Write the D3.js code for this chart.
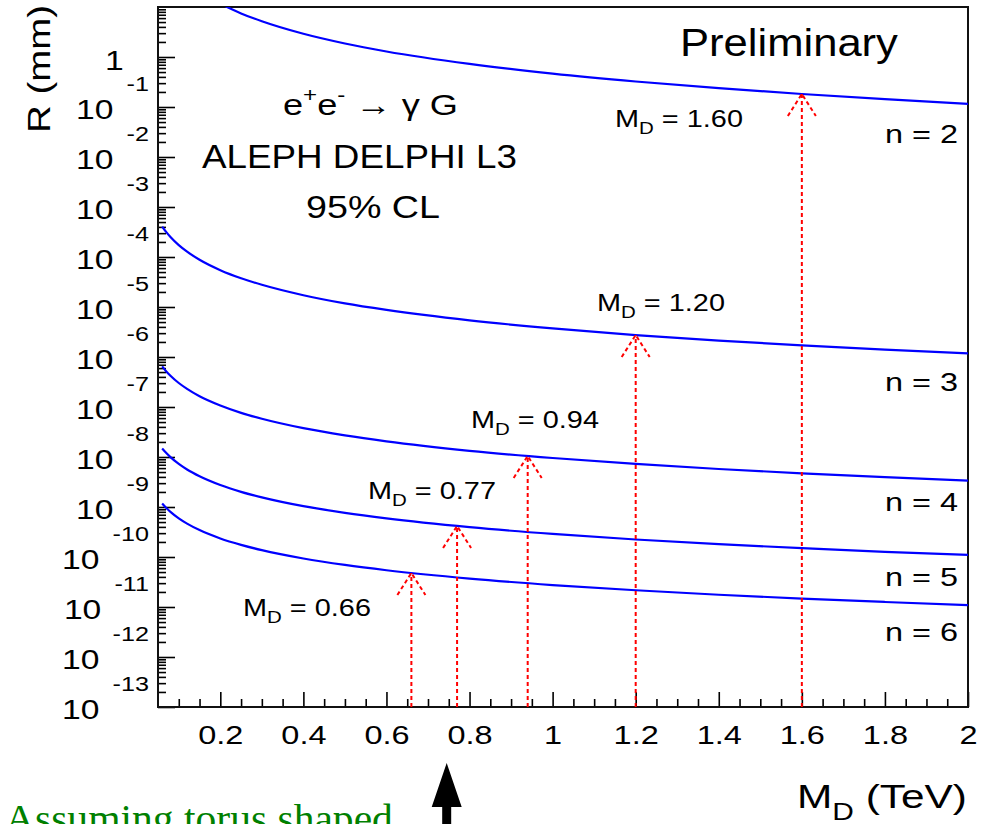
<!DOCTYPE html>
<html>
<head>
<meta charset="utf-8">
<script src="https://cdn.jsdelivr.net/npm/d3@7"></script>
<style>
  html, body { margin: 0; padding: 0; background: #ffffff; }
  svg { display: block; }
</style>
</head>
<body>
<svg id="chart" width="991" height="824"></svg>
<script>
// Sampled masses (TeV) at which the radius limits are tabulated
const massTeV = [0.06, 0.07, 0.08, 0.10, 0.12, 0.15, 0.20, 0.25, 0.30, 0.40, 0.50, 0.60, 0.80, 1.00, 1.20, 1.40, 1.60, 1.80, 2.00];

// Upper limit on the compactification radius R (mm) for n extra dimensions
const radiusN2 = [null, null, null, null, null, null, 11.6, 7.45, 5.18, 2.91, 1.86, 1.29, 0.728, 0.466, 0.324, 0.238, 0.182, 0.144, 0.116];
const radiusN3 = [4.06e-4, 3.14e-4, 2.51e-4, 1.73e-4, 1.28e-4, 8.81e-5, 5.46e-5, 3.76e-5, 2.78e-5, 1.72e-5, 1.18e-5, 8.74e-6, 5.41e-6, 3.73e-6, 2.75e-6, 2.13e-6, 1.71e-6, 1.40e-6, 1.18e-6];
const radiusN4 = [6.49e-7, 5.15e-7, 4.22e-7, 3.02e-7, 2.30e-7, 1.64e-7, 1.07e-7, 7.63e-8, 5.81e-8, 3.77e-8, 2.70e-8, 2.05e-8, 1.33e-8, 9.54e-9, 7.26e-9, 5.76e-9, 4.72e-9, 3.95e-9, 3.37e-9];
const radiusN5 = [1.48e-8, 1.20e-8, 9.93e-9, 7.26e-9, 5.62e-9, 4.12e-9, 2.75e-9, 2.01e-9, 1.56e-9, 1.04e-9, 7.63e-10, 5.91e-10, 3.95e-10, 2.89e-10, 2.24e-10, 1.81e-10, 1.50e-10, 1.27e-10, 1.10e-10];
const radiusN6 = [1.17e-9, 9.53e-10, 7.98e-10, 5.92e-10, 4.65e-10, 3.45e-10, 2.35e-10, 1.75e-10, 1.37e-10, 9.33e-11, 6.93e-11, 5.43e-11, 3.70e-11, 2.75e-11, 2.16e-11, 1.76e-11, 1.47e-11, 1.26e-11, 1.09e-11];

const seriesLabels = ["n = 2", "n = 3", "n = 4", "n = 5", "n = 6"];

// Combined 95% CL lower limits on M_D and the corresponding radius
const limitMass = [1.60, 1.20, 0.94, 0.77, 0.66];
const limitRadius = [0.182, 2.75e-6, 1.05e-8, 4.17e-10, 4.79e-11];
const limitLabels = ["1.60", "1.20", "0.94", "0.77", "0.66"];

// Axis ticks
const xTickValues = [0.2, 0.4, 0.6, 0.8, 1.0, 1.2, 1.4, 1.6, 1.8, 2.0];
const xTickLabels = ["0.2", "0.4", "0.6", "0.8", "1", "1.2", "1.4", "1.6", "1.8", "2"];
const yTickExponents = [0, -1, -2, -3, -4, -5, -6, -7, -8, -9, -10, -11, -12, -13];

// Mass pointed at from below the axis
const pointerMass = 0.745;

// ---------------------------------------------------------------------------
const plot = { left: 158, right: 968, top: 7, bottom: 707 };
const SANS = "'Liberation Sans', Arial, Helvetica, sans-serif";
const SERIF = "'Liberation Serif', 'Times New Roman', serif";

const x = d3.scaleLinear().domain([0.05, 2]).range([plot.left, plot.right]);
const y = d3.scaleLog().domain([1e-13, 10]).range([plot.bottom, plot.top]);

const svg = d3.select("#chart");

svg.append("defs").append("clipPath").attr("id", "plotClip")
  .append("rect")
  .attr("x", plot.left).attr("y", plot.top)
  .attr("width", plot.right - plot.left).attr("height", plot.bottom - plot.top);

// Places a text group with its left ink edge at `left`, on `baseline`,
// stretched horizontally so that it spans `width` pixels.
function fitText(sel, left, baseline, width) {
  const bb = sel.node().getBBox();
  const s = width / bb.width;
  sel.attr("transform", `translate(${left - bb.x * s},${baseline}) scale(${s},1)`);
}

// ---- axes ticks -----------------------------------------------------------
const xMinor = d3.range(0.1, 2.0001, 0.05)
  .filter(v => Math.abs(v / 0.2 - Math.round(v / 0.2)) > 1e-6);

const xAxisG = svg.append("g").attr("transform", `translate(0,${plot.bottom})`);
xAxisG.append("g")
  .call(d3.axisBottom(x).tickValues(xMinor).tickSize(-8).tickSizeOuter(0).tickFormat(""))
  .call(g => g.select(".domain").remove());
xAxisG.append("g")
  .call(d3.axisBottom(x).tickValues(xTickValues).tickSize(-15).tickSizeOuter(0)
    .tickFormat((d, i) => xTickLabels[i]))
  .call(g => g.select(".domain").remove())
  .call(g => g.selectAll("text")
    .attr("y", 37).attr("dy", null)
    .attr("font-family", SANS).attr("font-size", 25).attr("fill", "#000")
    .attr("transform", "scale(1.3,1)"));
xAxisG.selectAll(".tick line").attr("stroke", "#000").attr("stroke-width", 1.6);

const yMajor = yTickExponents.map(e => Math.pow(10, e));
const yMinor = [];
yTickExponents.forEach(e => { for (let m = 2; m <= 9; m++) yMinor.push(m * Math.pow(10, e)); });

const yAxisG = svg.append("g").attr("transform", `translate(${plot.left},0)`);
yAxisG.append("g")
  .call(d3.axisLeft(y).tickValues(yMinor).tickSize(-8).tickSizeOuter(0).tickFormat(""))
  .call(g => g.select(".domain").remove());
yAxisG.append("g")
  .call(d3.axisLeft(y).tickValues(yMajor).tickSize(-17).tickSizeOuter(0).tickFormat(""))
  .call(g => g.select(".domain").remove());
yAxisG.selectAll(".tick line").attr("stroke", "#000").attr("stroke-width", 1.6);

// y tick labels written as 10 with a raised exponent
const yLabels = svg.append("g").attr("font-family", SANS).attr("fill", "#000");
yTickExponents.forEach(e => {
  const ty = y(Math.pow(10, e));
  const g = yLabels.append("g").attr("transform", `translate(149,${ty}) scale(1.2,1)`);
  if (e === 0) {
    g.append("text").attr("x", -21).attr("y", 13).attr("text-anchor", "end")
      .attr("font-size", 28).text("1");
  } else {
    const t = g.append("text").attr("x", 0).attr("y", 11.5).attr("text-anchor", "end");
    t.append("tspan").attr("font-size", 28).text("10");
    t.append("tspan").attr("font-size", 21).attr("dx", 11).attr("dy", -27.5).text(String(e));
  }
});

// ---- frame ----------------------------------------------------------------
svg.append("rect")
  .attr("x", plot.left).attr("y", plot.top)
  .attr("width", plot.right - plot.left).attr("height", plot.bottom - plot.top)
  .attr("fill", "none").attr("stroke", "#111").attr("stroke-width", 2);

// ---- limit curves ---------------------------------------------------------
const seriesRadii = [radiusN2, radiusN3, radiusN4, radiusN5, radiusN6];
const line = d3.line()
  .defined(d => d.r != null)
  .x(d => x(d.m))
  .y(d => y(d.r))
  .curve(d3.curveMonotoneX);

const curves = svg.append("g").attr("clip-path", "url(#plotClip)");
seriesRadii.forEach(radii => {
  const pts = massTeV.map((m, i) => ({ m, r: radii[i] }));
  curves.append("path").datum(pts)
    .attr("d", line)
    .attr("fill", "none").attr("stroke", "#0000ff").attr("stroke-width", 2.2);
});

// ---- dashed limit arrows --------------------------------------------------
const arrows = svg.append("g")
  .attr("stroke", "#ff0000").attr("stroke-width", 2).attr("fill", "none")
  .attr("stroke-dasharray", "4,3");
limitMass.forEach((m, i) => {
  const ax = x(m), tip = y(limitRadius[i]);
  arrows.append("line")
    .attr("x1", ax).attr("y1", plot.bottom).attr("x2", ax).attr("y2", tip);
  arrows.append("path")
    .attr("d", `M${ax - 14},${tip + 22}L${ax},${tip}L${ax + 14},${tip + 22}`);
});

// ---- M_D value labels -----------------------------------------------------
const labelPos = [[615, 127], [597, 311], [471, 428], [368, 499], [243, 616]];
limitLabels.forEach((lab, i) => {
  const t = svg.append("text").attr("font-family", SANS).attr("fill", "#000");
  t.append("tspan").attr("font-size", 24).text("M");
  t.append("tspan").attr("font-size", 17).attr("dy", 7).text("D");
  t.append("tspan").attr("font-size", 24).attr("dy", -7).text(" = " + lab);
  fitText(t, labelPos[i][0], labelPos[i][1], 128);
});

// ---- n labels -------------------------------------------------------------
const nBaselines = [143, 391, 511, 586, 641];
seriesLabels.forEach((lab, i) => {
  const t = svg.append("text").attr("font-family", SANS).attr("font-size", 26)
    .attr("fill", "#000").text(lab);
  fitText(t, 885, nBaselines[i], 73);
});

// ---- header texts ---------------------------------------------------------
const prelim = svg.append("text").attr("font-family", SANS).attr("font-size", 38)
  .attr("fill", "#000").text("Preliminary");
fitText(prelim, 680, 56, 218);

const proc = svg.append("text").attr("font-family", SANS).attr("fill", "#000");
proc.append("tspan").attr("font-size", 30).text("e");
proc.append("tspan").attr("font-size", 20).attr("dy", -13).text("+");
proc.append("tspan").attr("font-size", 30).attr("dy", 13).text("e");
proc.append("tspan").attr("font-size", 20).attr("dy", -13).text("-");
proc.append("tspan").attr("font-size", 30).attr("dy", 13).text(" \u2192 \u03b3 G");
fitText(proc, 283, 115, 175);

const exps = svg.append("text").attr("font-family", SANS).attr("font-size", 33)
  .attr("fill", "#000").text("ALEPH DELPHI L3");
fitText(exps, 202, 168, 315);

const cl = svg.append("text").attr("font-family", SANS).attr("font-size", 32)
  .attr("fill", "#000").text("95% CL");
fitText(cl, 306, 218, 134);

// ---- axis titles ----------------------------------------------------------
const xTitle = svg.append("text").attr("font-family", SANS).attr("fill", "#000");
xTitle.append("tspan").attr("font-size", 34).text("M");
xTitle.append("tspan").attr("font-size", 24).attr("dy", 12).text("D");
xTitle.append("tspan").attr("font-size", 34).attr("dy", -12).text(" (TeV)");
fitText(xTitle, 797, 808, 170);

const yTitle = svg.append("text").attr("font-family", SANS).attr("font-size", 31)
  .attr("fill", "#000").text("R (mm)");
{
  const bb = yTitle.node().getBBox();
  const s = 128 / bb.width;
  yTitle.attr("transform", `translate(50,133) rotate(-90) scale(${s},1)`);
}

// ---- note and pointer below the axis --------------------------------------
const note = svg.append("text").attr("font-family", SERIF).attr("font-size", 40)
  .attr("fill", "#008000").text("Assuming torus shaped");
fitText(note, 5, 832, 388);

const px = x(pointerMass);
svg.append("path")
  .attr("d", `M${px},763L${px - 15},807L${px - 4.5},807L${px - 4.5},824L${px + 4.5},824L${px + 4.5},807L${px + 15},807Z`)
  .attr("fill", "#000");
</script>
</body>
</html>
